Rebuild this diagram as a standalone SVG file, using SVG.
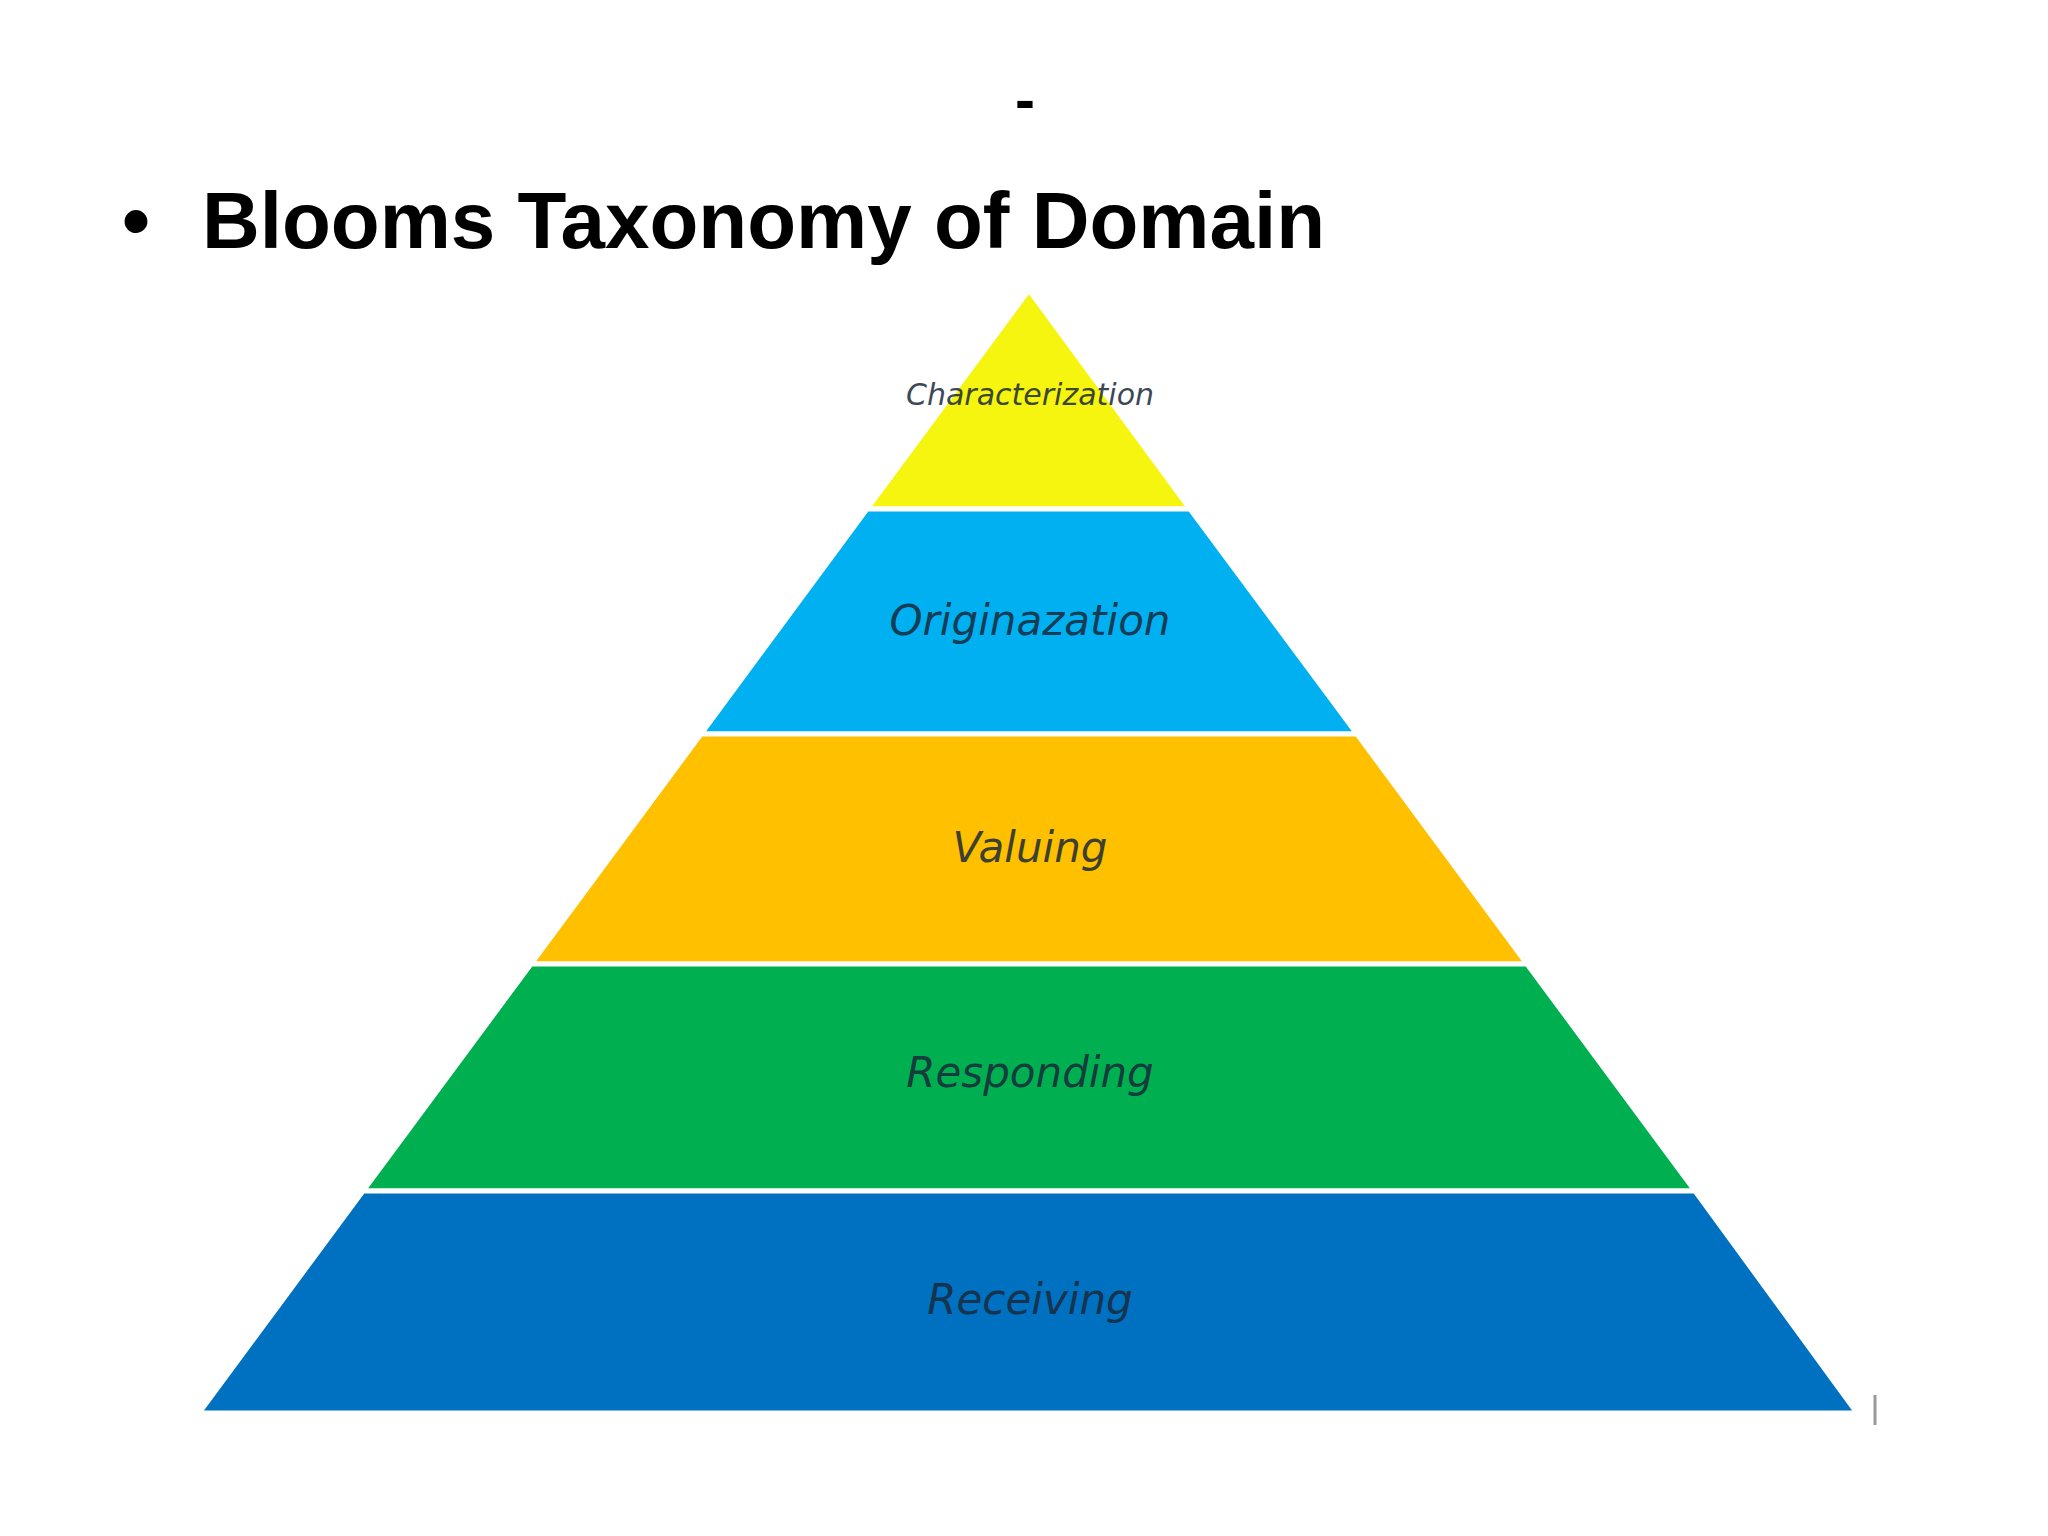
<svg xmlns="http://www.w3.org/2000/svg" width="2048" height="1536" viewBox="0 0 2048 1536">
<style>
.t{font-family:"Liberation Sans",Arial,sans-serif;font-weight:bold;fill:#000}
.l{font-family:"DejaVu Sans","Liberation Sans",sans-serif;font-style:italic;fill:#1a2a3a;text-anchor:middle;opacity:0.85}
.b{stroke:#fff;stroke-width:5}
</style>
<rect width="2048" height="1536" fill="#fff"/>
<g id="title">
<text class="t" x="1025" y="120" font-size="60" text-anchor="middle">-</text>
<text class="t" x="122" y="248" font-size="80">•</text>
<text class="t" x="202" y="248" font-size="80">Blooms Taxonomy of  Domain</text>
</g>
<g id="characterization"><polygon class="b" points="1029,290 1190,509 867,509" fill="#f5f50f"/><text class="l" x="1030" y="405" font-size="30">Characterization</text></g>
<g id="originazation"><polygon class="b" points="867,509 1190,509 1357,734 701,734" fill="#00b0f0"/><text class="l" x="1030" y="635" font-size="42">Originazation</text></g>
<g id="valuing"><polygon class="b" points="701,734 1357,734 1527,964 531,964" fill="#ffc000"/><text class="l" x="1030" y="862" font-size="42">Valuing</text></g>
<g id="responding"><polygon class="b" points="531,964 1527,964 1695,1191 363,1191" fill="#00b050"/><text class="l" x="1030" y="1087" font-size="42">Responding</text></g>
<g id="receiving"><polygon class="b" points="363,1191 1695,1191 1857,1413 199,1413" fill="#0070c0"/><text class="l" x="1030" y="1314" font-size="42">Receiving</text></g>
<g id="connectors"><line x1="1875" y1="1395" x2="1875" y2="1425" stroke="#999" stroke-width="3"/></g>
</svg>
